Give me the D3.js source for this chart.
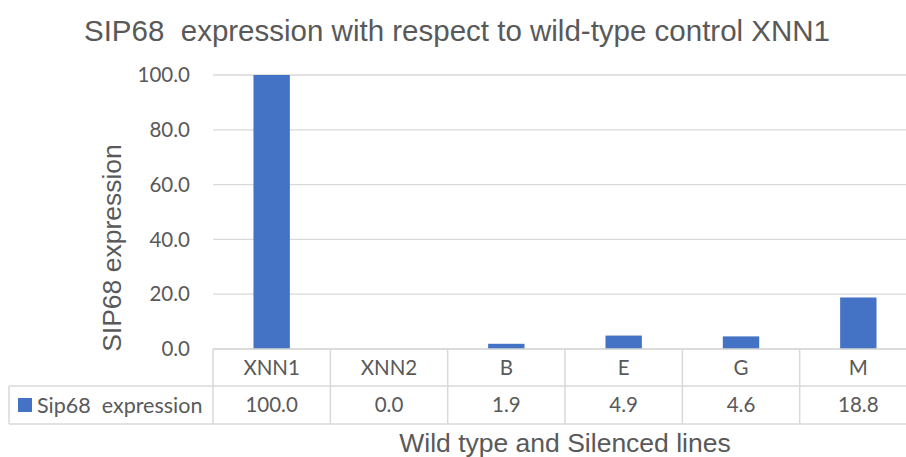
<!DOCTYPE html>
<html lang="en">
<head>
<meta charset="utf-8">
<title>SIP68 expression</title>
<script src="https://cdn.jsdelivr.net/npm/d3@7"></script>
<style>
  body { margin: 0; background: #fff; }
  text { white-space: pre; }
  .title, .axis-title { font-family: "Liberation Sans", Arial, sans-serif; fill: #595959; }
  .tick-lbl, .cell { font-family: Lato, "Open Sans", sans-serif; fill: #595959; font-size: 20.5px; }
</style>
</head>
<body>
<div id="chart"></div>
<script>
var categories = ["XNN1", "XNN2", "B", "E", "G", "M"];
var values = [100.0, 0.0, 1.9, 4.9, 4.6, 18.8];
var yTicks = [0, 20, 40, 60, 80, 100];
var seriesName = "Sip68  expression";

var w = 906, h = 457;
var plotL = 213, plotR = 917, plotT = 75, plotB = 349;
var row1 = 386, row2 = 424, tableLeft = 9;
var gridColor = "#d9d9d9";
var barColor = "#4472c4";

var svg = d3.select("#chart").append("svg")
  .attr("width", w).attr("height", h);

var x = d3.scaleBand().domain(categories).range([plotL, plotR]);
var y = d3.scaleLinear().domain([0, 100]).range([plotB, plotT]);

// gridlines
svg.append("g").selectAll("line").data(yTicks).enter().append("line")
  .attr("x1", plotL).attr("x2", plotR)
  .attr("y1", function(d) { return y(d); }).attr("y2", function(d) { return y(d); })
  .attr("stroke", gridColor).attr("stroke-width", 1.3);

// y tick labels
svg.append("g").selectAll("text").data(yTicks).enter().append("text")
  .attr("class", "tick-lbl")
  .attr("x", 190).attr("y", function(d) { return y(d); })
  .attr("dy", "0.35em").attr("text-anchor", "end")
  .text(function(d) { return d3.format(".1f")(d); });

// bars
var bw = x.step() * 0.31;
svg.append("g").selectAll("rect").data(values).enter().append("rect")
  .attr("x", function(d, i) { return x(categories[i]) + x.step() / 2 - bw / 2; })
  .attr("y", function(d) { return y(d); })
  .attr("width", bw)
  .attr("height", function(d) { return plotB - y(d); })
  .attr("fill", barColor);

// data table
var tbl = svg.append("g").attr("fill", "none").attr("stroke", gridColor).attr("stroke-width", 1.5);
tbl.append("line").attr("x1", plotL).attr("x2", plotR).attr("y1", plotB).attr("y2", plotB);
tbl.append("line").attr("x1", tableLeft).attr("x2", plotR).attr("y1", row1).attr("y2", row1);
tbl.append("line").attr("x1", tableLeft).attr("x2", plotR).attr("y1", row2).attr("y2", row2);
tbl.append("line").attr("x1", tableLeft).attr("x2", tableLeft).attr("y1", row1).attr("y2", row2);
tbl.selectAll(".v").data(categories.concat(["_end"])).enter().append("line")
  .attr("x1", function(d, i) { return plotL + i * x.step(); })
  .attr("x2", function(d, i) { return plotL + i * x.step(); })
  .attr("y1", plotB).attr("y2", row2);

svg.append("g").selectAll("text").data(categories).enter().append("text")
  .attr("class", "cell")
  .attr("x", function(d) { return x(d) + x.step() / 2; })
  .attr("y", (plotB + row1) / 2).attr("dy", "0.35em")
  .attr("text-anchor", "middle")
  .text(function(d) { return d; });

svg.append("g").selectAll("text").data(values).enter().append("text")
  .attr("class", "cell")
  .attr("x", function(d, i) { return x(categories[i]) + x.step() / 2; })
  .attr("y", (row1 + row2) / 2).attr("dy", "0.35em")
  .attr("text-anchor", "middle")
  .text(function(d) { return d3.format(".1f")(d); });

// legend key in table
svg.append("rect").attr("x", 18).attr("y", (row1 + row2) / 2 - 7)
  .attr("width", 14).attr("height", 14).attr("fill", barColor);
svg.append("text").attr("class", "cell")
  .attr("x", 37).attr("y", (row1 + row2) / 2).attr("dy", "0.35em")
  .style("font-size", "21.5px")
  .text(seriesName);

// titles
svg.append("text").attr("class", "title")
  .attr("x", 457).attr("y", 41).attr("text-anchor", "middle")
  .style("font-size", "29.5px")
  .text("SIP68  expression with respect to wild-type control XNN1");

svg.append("text").attr("class", "axis-title")
  .attr("transform", "translate(121,248) rotate(-90)")
  .attr("text-anchor", "middle")
  .style("font-size", "26.5px")
  .text("SIP68 expression");

svg.append("text").attr("class", "axis-title")
  .attr("x", (plotL + plotR) / 2).attr("y", 452).attr("text-anchor", "middle")
  .style("font-size", "26.5px")
  .text("Wild type and Silenced lines");
</script>
</body>
</html>
